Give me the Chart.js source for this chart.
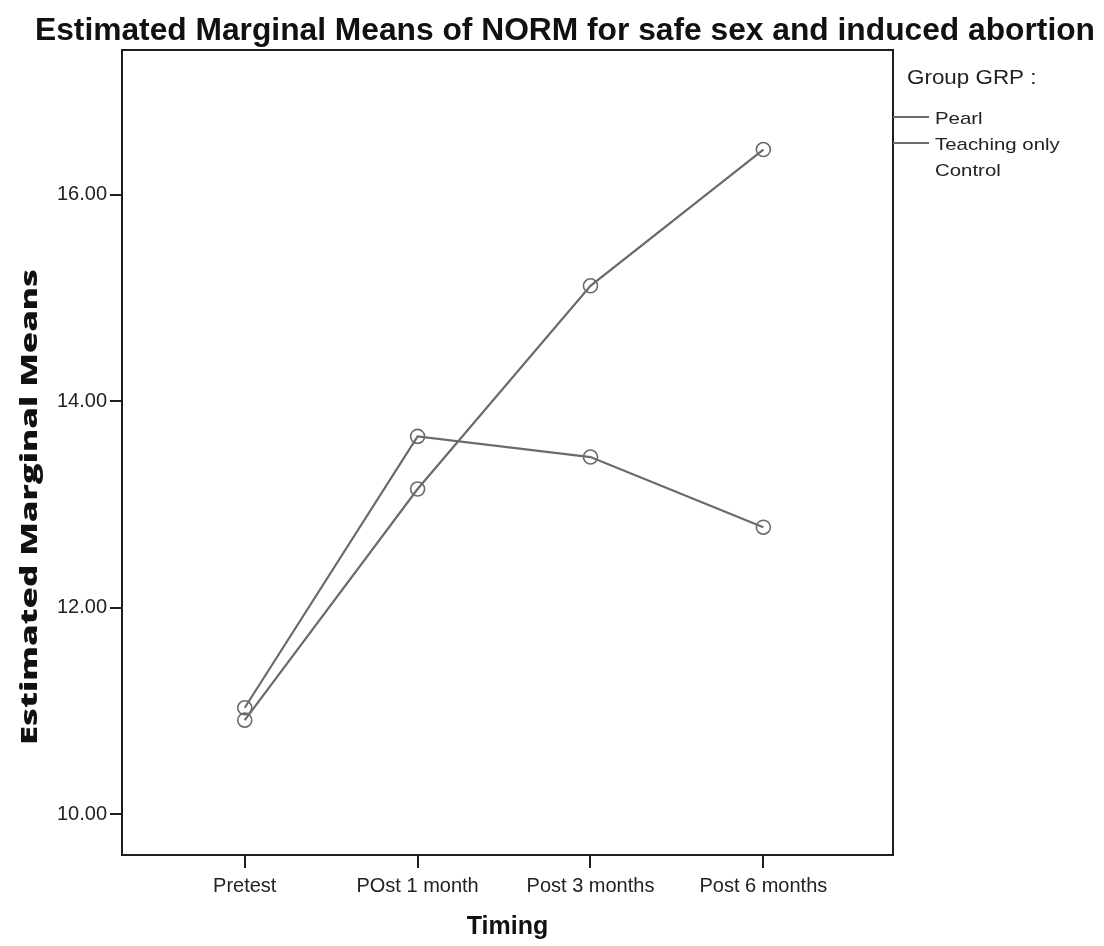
<!DOCTYPE html>
<html>
<head>
<meta charset="utf-8">
<script src="https://cdn.jsdelivr.net/npm/chart.js@4"></script>
<style>
  html, body { margin: 0; padding: 0; background: #fff; }
  #wrap { width: 1104px; height: 946px; }
</style>
</head>
<body>
<div id="wrap"><canvas id="chart" width="1104" height="946"></canvas></div>
<script>
'use strict';

// data
const categories = ['Pretest', 'POst 1 month', 'Post 3 months', 'Post 6 months'];
const pearl = [10.91, 13.15, 15.12, 16.44];
const control = [11.03, 13.66, 13.46, 12.78];
const groupNames = ['Pearl', 'Teaching only\nControl'];
const yTicks = [10, 12, 14, 16];

const chartTitle = 'Estimated Marginal Means of NORM for safe sex and induced abortion';
const yTitle = 'Estimated Marginal Means';
const xTitle = 'Timing';
const legendTitle = 'Group GRP :';

const ink = '#1e1e1e';
const lineGray = '#6a6a6a';

// squeeze / stretch text so it fills a given width
function fitText(ctx, text, x, y, maxW) {
  let w = ctx.measureText(text).width;
  let sx = maxW / w;
  ctx.save();
  ctx.translate(x, y);
  ctx.scale(sx, 1);
  ctx.fillText(text, -w / 2, 0);
  ctx.restore();
}

function stretchText(ctx, text, x, y, sx) {
  ctx.save();
  ctx.translate(x, y);
  ctx.scale(sx, 1);
  ctx.fillText(text, 0, 0);
  ctx.restore();
}

// frame, titles and legend
const decor = {
  id: 'decor',
  afterDraw(chart) {
    const ctx = chart.ctx;
    const a = chart.chartArea;
    ctx.save();
    ctx.strokeStyle = ink;
    ctx.lineWidth = 2;
    ctx.strokeRect(a.left, a.top, a.right - a.left, a.bottom - a.top);

    ctx.fillStyle = '#111';
    ctx.textBaseline = 'middle';
    ctx.font = 'bold 31px "Liberation Sans", Arial, sans-serif';
    fitText(ctx, chartTitle, 565, 31, 1060);

    ctx.save();
    ctx.translate(30, 507);
    ctx.rotate(-Math.PI / 2);
    ctx.font = '800 23px "Open Sans", sans-serif';
    fitText(ctx, yTitle, 0, 0, 476);
    ctx.restore();

    // legend
    ctx.fillStyle = '#222';
    ctx.font = '20px "Liberation Sans", Arial, sans-serif';
    stretchText(ctx, legendTitle, 907, 78, 1.12);

    ctx.font = '17px "Liberation Sans", Arial, sans-serif';
    let ys = [117, 143];
    chart.data.datasets.forEach((ds, i) => {
      let y = ys[i];
      ctx.strokeStyle = ds.borderColor;
      ctx.lineWidth = 2;
      ctx.beginPath();
      ctx.moveTo(a.right, y);
      ctx.lineTo(a.right + 36, y);
      ctx.stroke();
      groupNames[i].split('\n').forEach((ln, j) => {
        stretchText(ctx, ln, 935, y + 2 + j * 26, 1.2);
      });
    });
    ctx.restore();
  }
};

const tickFont = { family: '"Liberation Sans", Arial, sans-serif', size: 20 };

function series(label, values) {
  return {
    label: label,
    data: values.map((v, i) => ({ x: i, y: v })),
    borderColor: lineGray,
    borderWidth: 2.2,
    pointRadius: 7,
    pointBorderWidth: 1.6,
    pointBackgroundColor: 'rgba(0,0,0,0)',
    pointBorderColor: lineGray,
    tension: 0
  };
}

new Chart(document.getElementById('chart'), {
  type: 'line',
  data: {
    datasets: [
      series('Pearl', pearl),
      series('Teaching only Control', control)
    ]
  },
  options: {
    responsive: false,
    animation: false,
    layout: { padding: { top: 50, right: 211, left: 0, bottom: 0 } },
    plugins: {
      legend: { display: false },
      title: { display: false },
      tooltip: { enabled: false }
    },
    scales: {
      x: {
        type: 'linear',
        min: -0.71,
        max: 3.75,
        afterBuildTicks: s => { s.ticks = categories.map((c, i) => ({ value: i })); },
        afterFit: s => { s.height = 91; },
        ticks: {
          callback: v => categories[v],
          font: tickFont,
          color: '#222',
          padding: 6,
          maxRotation: 0,
          autoSkip: false
        },
        grid: { drawOnChartArea: false, tickLength: 13, color: ink, lineWidth: 2 },
        border: { color: ink, width: 2 },
        title: {
          display: true,
          text: xTitle,
          color: '#111',
          font: { family: '"Liberation Sans", Arial, sans-serif', size: 25, weight: 'bold' },
          padding: { top: 0, bottom: 4 }
        }
      },
      y: {
        min: 9.603,
        max: 17.405,
        afterBuildTicks: s => { s.ticks = yTicks.map(v => ({ value: v })); },
        afterFit: s => { s.width = 122; },
        ticks: {
          callback: v => v.toFixed(2),
          font: tickFont,
          color: '#222',
          padding: 3
        },
        grid: { drawOnChartArea: false, tickLength: 12, color: ink, lineWidth: 2 },
        border: { color: ink, width: 2 }
      }
    }
  },
  plugins: [decor]
});
</script>
</body>
</html>
